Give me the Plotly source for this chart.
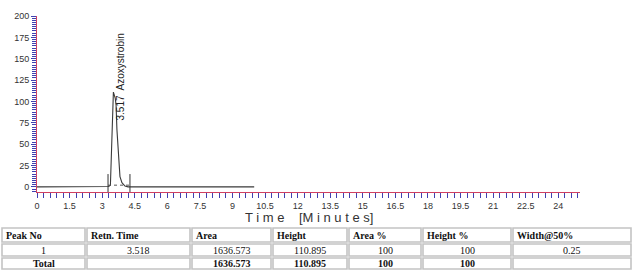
import plotly.graph_objects as go

# ---- chromatogram data (minutes, mV) ----
time_min = [0.0, 3.0, 3.30, 3.38, 3.43, 3.476, 3.517, 3.60, 3.64, 3.68, 3.73, 3.775, 3.82, 3.91, 4.05, 4.19, 6.0, 10.0]
signal = [0.0, 0.0, 0.5, 2.0, 43.0, 90.0, 110.895, 104.0, 96.0, 67.0, 43.0, 23.0, 12.0, 5.0, 1.0, 0.0, 0.0, 0.0]

peak_rt = [3.517]
peak_label = ["3.517  Azoxystrobin"]
peak_start = [3.27]
peak_end = [4.28]

x_ticks = [0, 1.5, 3, 4.5, 6, 7.5, 9, 10.5, 12, 13.5, 15, 16.5, 18, 19.5, 21, 22.5, 24]
x_tick_text = ["0", "1.5", "3", "4.5", "6", "7.5", "9", "10.5", "12", "13.5", "15", "16.5", "18", "19.5", "21", "22.5", "24"]
y_ticks = [0, 25, 50, 75, 100, 125, 150, 175, 200]

# ---- table data ----
col_headers = ["Peak No", "Retn. Time", "Area", "Height", "Area %", "Height %", "Width@50%"]
row_peak = ["1", "3.518", "1636.573", "110.895", "100", "100", "0.25"]
row_total = ["Total", "", "1636.573", "110.895", "100", "100", ""]

W, H = 633, 270
TOP = 16
plot_bottom_px = 192
plot_left_px = 37
plot_right_px = 580
area_h = H - TOP

# table layout (pixels)
col_edges = [1, 86, 191, 272, 348, 422, 512, 632]
row_edges = [227, 243, 257, 270]


def px(xp):
    return xp / W


def py(yp):
    return (H - yp) / area_h


fig = go.Figure()

# signal trace
fig.add_trace(go.Scatter(x=time_min, y=signal, mode="lines",
                         line=dict(color="#3a3a3a", width=1.1),
                         hoverinfo="skip", showlegend=False))

# dotted baseline between peak start and end
fig.add_trace(go.Scatter(x=[peak_start[0], peak_end[0]], y=[2, 2], mode="lines",
                         line=dict(color="#555555", width=1, dash="dot"),
                         hoverinfo="skip", showlegend=False))
# start / end markers
for xv in peak_start + peak_end:
    fig.add_trace(go.Scatter(x=[xv, xv], y=[-6, 15], mode="lines",
                             line=dict(color="#333333", width=1),
                             hoverinfo="skip", showlegend=False))

# peak label
for rt, lab, sig in zip(peak_rt, peak_label, [max(signal)]):
    fig.add_annotation(x=rt, y=sig, xref="x", yref="y", text=lab, textangle=-90,
                       showarrow=False, xanchor="left", yanchor="bottom",
                       xshift=0, yshift=-30,
                       font=dict(family="Liberation Sans, Arial", size=10, color="#222222"))

# axis title with spaced letters
fig.add_annotation(x=px(0.5 * (plot_left_px + plot_right_px)), y=py(217),
                   xref="paper", yref="paper", xanchor="center", yanchor="middle",
                   text="T i m e&nbsp;&nbsp;&nbsp;&nbsp;[M i n u t e s]", showarrow=False,
                   font=dict(family="Liberation Sans, Arial", size=13, color="#333333"))

# ---- table drawn with shapes + annotations ----
grid = "#c4c4c4"
for r in range(len(row_edges) - 1):
    for c in range(len(col_edges) - 1):
        fig.add_shape(type="rect", xref="paper", yref="paper",
                      x0=px(col_edges[c] + 1), x1=px(col_edges[c + 1] - 1),
                      y0=py(row_edges[r] + 1), y1=py(row_edges[r + 1] - 1),
                      line=dict(color=grid, width=1.6), fillcolor="white", layer="below")

serif = "Liberation Serif, Times New Roman"
for c, h in enumerate(col_headers):
    fig.add_annotation(x=px(col_edges[c] + 3), y=py(0.5 * (row_edges[0] + row_edges[1])),
                       xref="paper", yref="paper", text="<b>%s</b>" % h, showarrow=False,
                       xanchor="left", yanchor="middle",
                       font=dict(family=serif, size=10, color="#111111"))
for r, row in enumerate([row_peak, row_total]):
    for c, v in enumerate(row):
        if not v:
            continue
        txt = v if r == 0 else "<b>%s</b>" % v
        fig.add_annotation(x=px(0.5 * (col_edges[c] + col_edges[c + 1])),
                           y=py(0.5 * (row_edges[r + 1] + row_edges[r + 2])),
                           xref="paper", yref="paper", text=txt, showarrow=False,
                           xanchor="center", yanchor="middle",
                           font=dict(family=serif, size=10, color="#111111"))

fig.update_xaxes(domain=[px(plot_left_px), px(plot_right_px)], range=[0, 25], automargin=False,
                 tickmode="array", tickvals=x_ticks, ticktext=x_tick_text,
                 showgrid=False, zeroline=False,
                 showline=True, linecolor="#d04060", linewidth=1,
                 ticks="outside", ticklen=5, tickcolor="#4040b0", tickwidth=1,
                 minor=dict(dtick=0.3, ticks="outside", ticklen=5, tickcolor="#4040b0", tickwidth=1, showgrid=False),
                 tickfont=dict(family="Liberation Sans, Arial", size=9, color="#333333"))
fig.update_yaxes(domain=[py(plot_bottom_px), 1], range=[-6, 200], automargin=False,
                 tickmode="array", tickvals=y_ticks,
                 showgrid=False, zeroline=False,
                 showline=True, linecolor="#d04060", linewidth=1,
                 ticks="outside", ticklen=5, tickcolor="#4040b0", tickwidth=1,
                 minor=dict(dtick=2.5, ticks="outside", ticklen=4, tickcolor="#4040b0", tickwidth=1, showgrid=False),
                 tickfont=dict(family="Liberation Sans, Arial", size=9, color="#333333"))

fig.update_layout(width=W, height=H, margin=dict(l=0, r=0, t=TOP, b=0, autoexpand=False),
                  plot_bgcolor="white", paper_bgcolor="white", showlegend=False)

fig.write_html("out.html", config={"displayModeBar": False},
               post_script="document.body.style.margin='0px';")
